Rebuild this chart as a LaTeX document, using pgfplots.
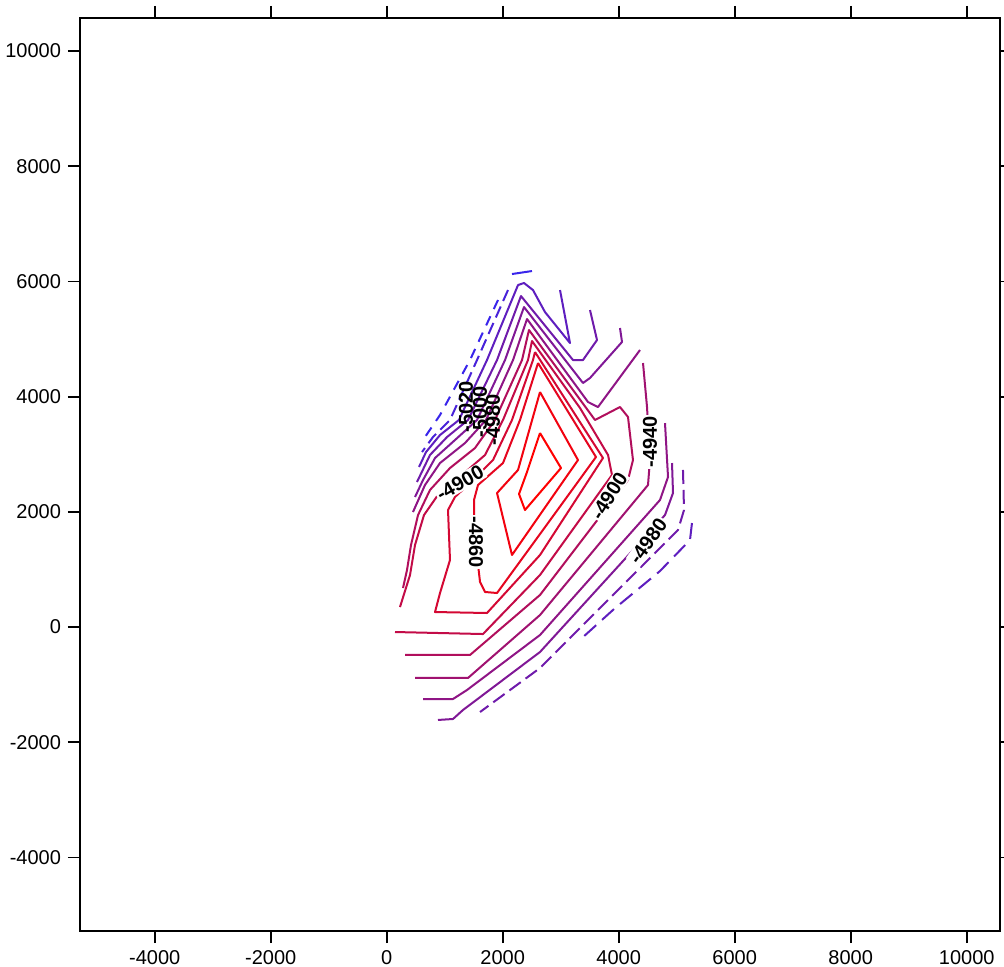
\documentclass[border=0pt]{standalone}
\usepackage{pgfplots}
\pgfplotsset{compat=1.18}
\usepackage{fontspec}
\setmainfont{Liberation Sans}
\definecolor{cblue}{RGB}{40,40,255}
\colorlet{c1}{red}
\colorlet{c2}{red!94!cblue}
\colorlet{c3}{red!88!cblue}
\colorlet{c4}{red!80!cblue}
\colorlet{c5}{red!72!cblue}
\colorlet{c6}{red!64!cblue}
\colorlet{c7}{red!56!cblue}
\colorlet{c8}{red!48!cblue}
\colorlet{c9}{red!41!cblue}
\colorlet{c10}{red!33!cblue}
\colorlet{c11}{red!25!cblue}
\colorlet{c12}{red!15!cblue}
\colorlet{c13}{red!8!cblue}
\begin{document}
\begin{tikzpicture}
\begin{axis}[
  width=460pt, height=456.5pt, scale only axis,
  xmin=-5288, xmax=10574, ymin=-5278, ymax=10573,
  xtick={-4000,-2000,0,2000,4000,6000,8000,10000},
  ytick={-4000,-2000,0,2000,4000,6000,8000,10000},
  scaled x ticks=false, scaled y ticks=false,
  tick align=outside, major tick length=6pt,
  xtick pos=both, ytick pos=both,
  xticklabel pos=lower, yticklabel pos=left,
  axis line style={line width=1pt},
  tick style={black, line width=0.9pt},
  ticklabel style={font=\fontsize{10}{12}\selectfont},
  /pgf/number format/assume math mode=true,
  /pgf/number format/1000 sep={},
  every axis plot/.append style={line width=1pt, line join=round, no marks},
]
% innermost closed contours
\addplot[c1] coordinates {(2643,3368) (3005,2760) (2384,2031) (2281,2309) (2419,2691) (2643,3368)};
\addplot[c2] coordinates {(2643,4080) (3298,2899) (2160,1250) (1902,2326) (2264,2726) (2643,4080)};
\addplot[c3] coordinates {(2609,4583) (3608,2951) (2643,1614) (1902,590) (1695,608) (1609,781) (1505,1684) (1505,2205) (1574,2465) (2005,2847) (2298,3594) (2609,4583)};
\addplot[c4] coordinates {(2557,4774) (3729,2934) (2643,1250) (1729,243) (833,260) (919,590) (1091,1163) (1057,2031) (1177,2257) (1436,2500) (1833,2899) (2160,3594) (2522,4635) (2557,4774)};
% open contours
\addplot[c5] coordinates {(143,-87) (1660,-122) (2643,903) (3884,2639) (3816,2986) (3333,3802) (2505,4965) (2436,4635) (2005,3594) (1695,2986) (1298,2639) (919,2344) (643,1944) (488,1424) (402,903) (229,347)};
\addplot[c6] coordinates {(316,-486) (1436,-486) (2643,556) (4160,2552) (4246,2899) (4160,3646) (4022,3819) (3591,3594) (2453,5156) (2333,4635) (1867,3594) (1522,3107) (1091,2760) (746,2378) (540,1944) (419,1424) (350,990) (281,677)};
\addplot[c7] coordinates {(4419,4583) (4488,3819) (4539,2899) (4505,2465) (2643,208) (1402,-885) (488,-885)};
\addplot[c8] coordinates {(4367,4809) (3643,3819) (3471,3906) (2419,5347) (2178,4635) (1712,3594) (1350,3194) (919,2847) (660,2465) (453,1996)};
\addplot[c8] coordinates {(4798,3541) (4850,2604) (4712,2205) (2643,-139) (1384,-1094) (1143,-1250) (626,-1250)};
\addplot[c9] coordinates {(4022,5191) (4057,4948) (3505,4323) (3384,4236) (2367,5555) (2040,4635) (1557,3594) (1177,3246) (833,2934) (626,2552) (488,2257)};
\addplot[c9] coordinates {(4919,2847) (4936,2326) (4798,1944) (2643,-434) (1315,-1441) (1143,-1597) (884,-1614)};
\addplot[c10] coordinates {(3505,5503) (3626,4982) (3384,4635) (3212,4635) (2315,5746) (1902,4635) (1402,3594) (1040,3298) (746,2986) (522,2517)};
\addplot[c10, dash pattern=on 7pt off 3pt] coordinates {(5108,2726) (5126,2031) (5022,1684) (2643,-712) (1609,-1476)};
\addplot[c11] coordinates {(2988,5850) (3160,4930) (2729,5468) (2522,5850) (2367,5972) (2264,5937) (1729,4635) (1246,3594) (919,3333) (678,3038) (557,2778)};
\addplot[c11, dash pattern=on 8pt off 4pt] coordinates {(5263,1805) (5229,1510) (4712,972) (3919,312) (3367,-191)};
\addplot[c12, dash pattern=on 6pt off 3pt] coordinates {(2091,5850) (1557,4635) (1091,3594) (798,3298) (609,3038)};
\addplot[c13] coordinates {(2505,6180) (2160,6128)};
\addplot[c13, dash pattern=on 5pt off 4pt] coordinates {(1919,5677) (1436,4635) (919,3680) (660,3298)};
% contour labels
\begin{scope}[every node/.style={font=\bfseries\fontsize{10}{12}\selectfont, fill=white, inner sep=0.6pt}]
\node[rotate=-90] at (axis cs:1540,1476) {-4860};
\node[rotate=30] at (axis cs:1264,2500) {-4900};
\node[rotate=58] at (axis cs:3833,2274) {-4900};
\node[rotate=90] at (axis cs:4539,3212) {-4940};
\node[rotate=55] at (axis cs:4505,1493) {-4980};
\node[rotate=90, fill=none] at (axis cs:1366,3827) {-5020};
\node[rotate=90, fill=none] at (axis cs:1609,3740) {-5000};
\node[rotate=90, fill=none] at (axis cs:1833,3600) {-4980};
\end{scope}
\end{axis}
\pgfresetboundingbox
\path ([shift={(-40pt,-17.5pt)}]current axis.south west) rectangle ([shift={(2pt,9pt)}]current axis.north east);
\end{tikzpicture}
\end{document}
